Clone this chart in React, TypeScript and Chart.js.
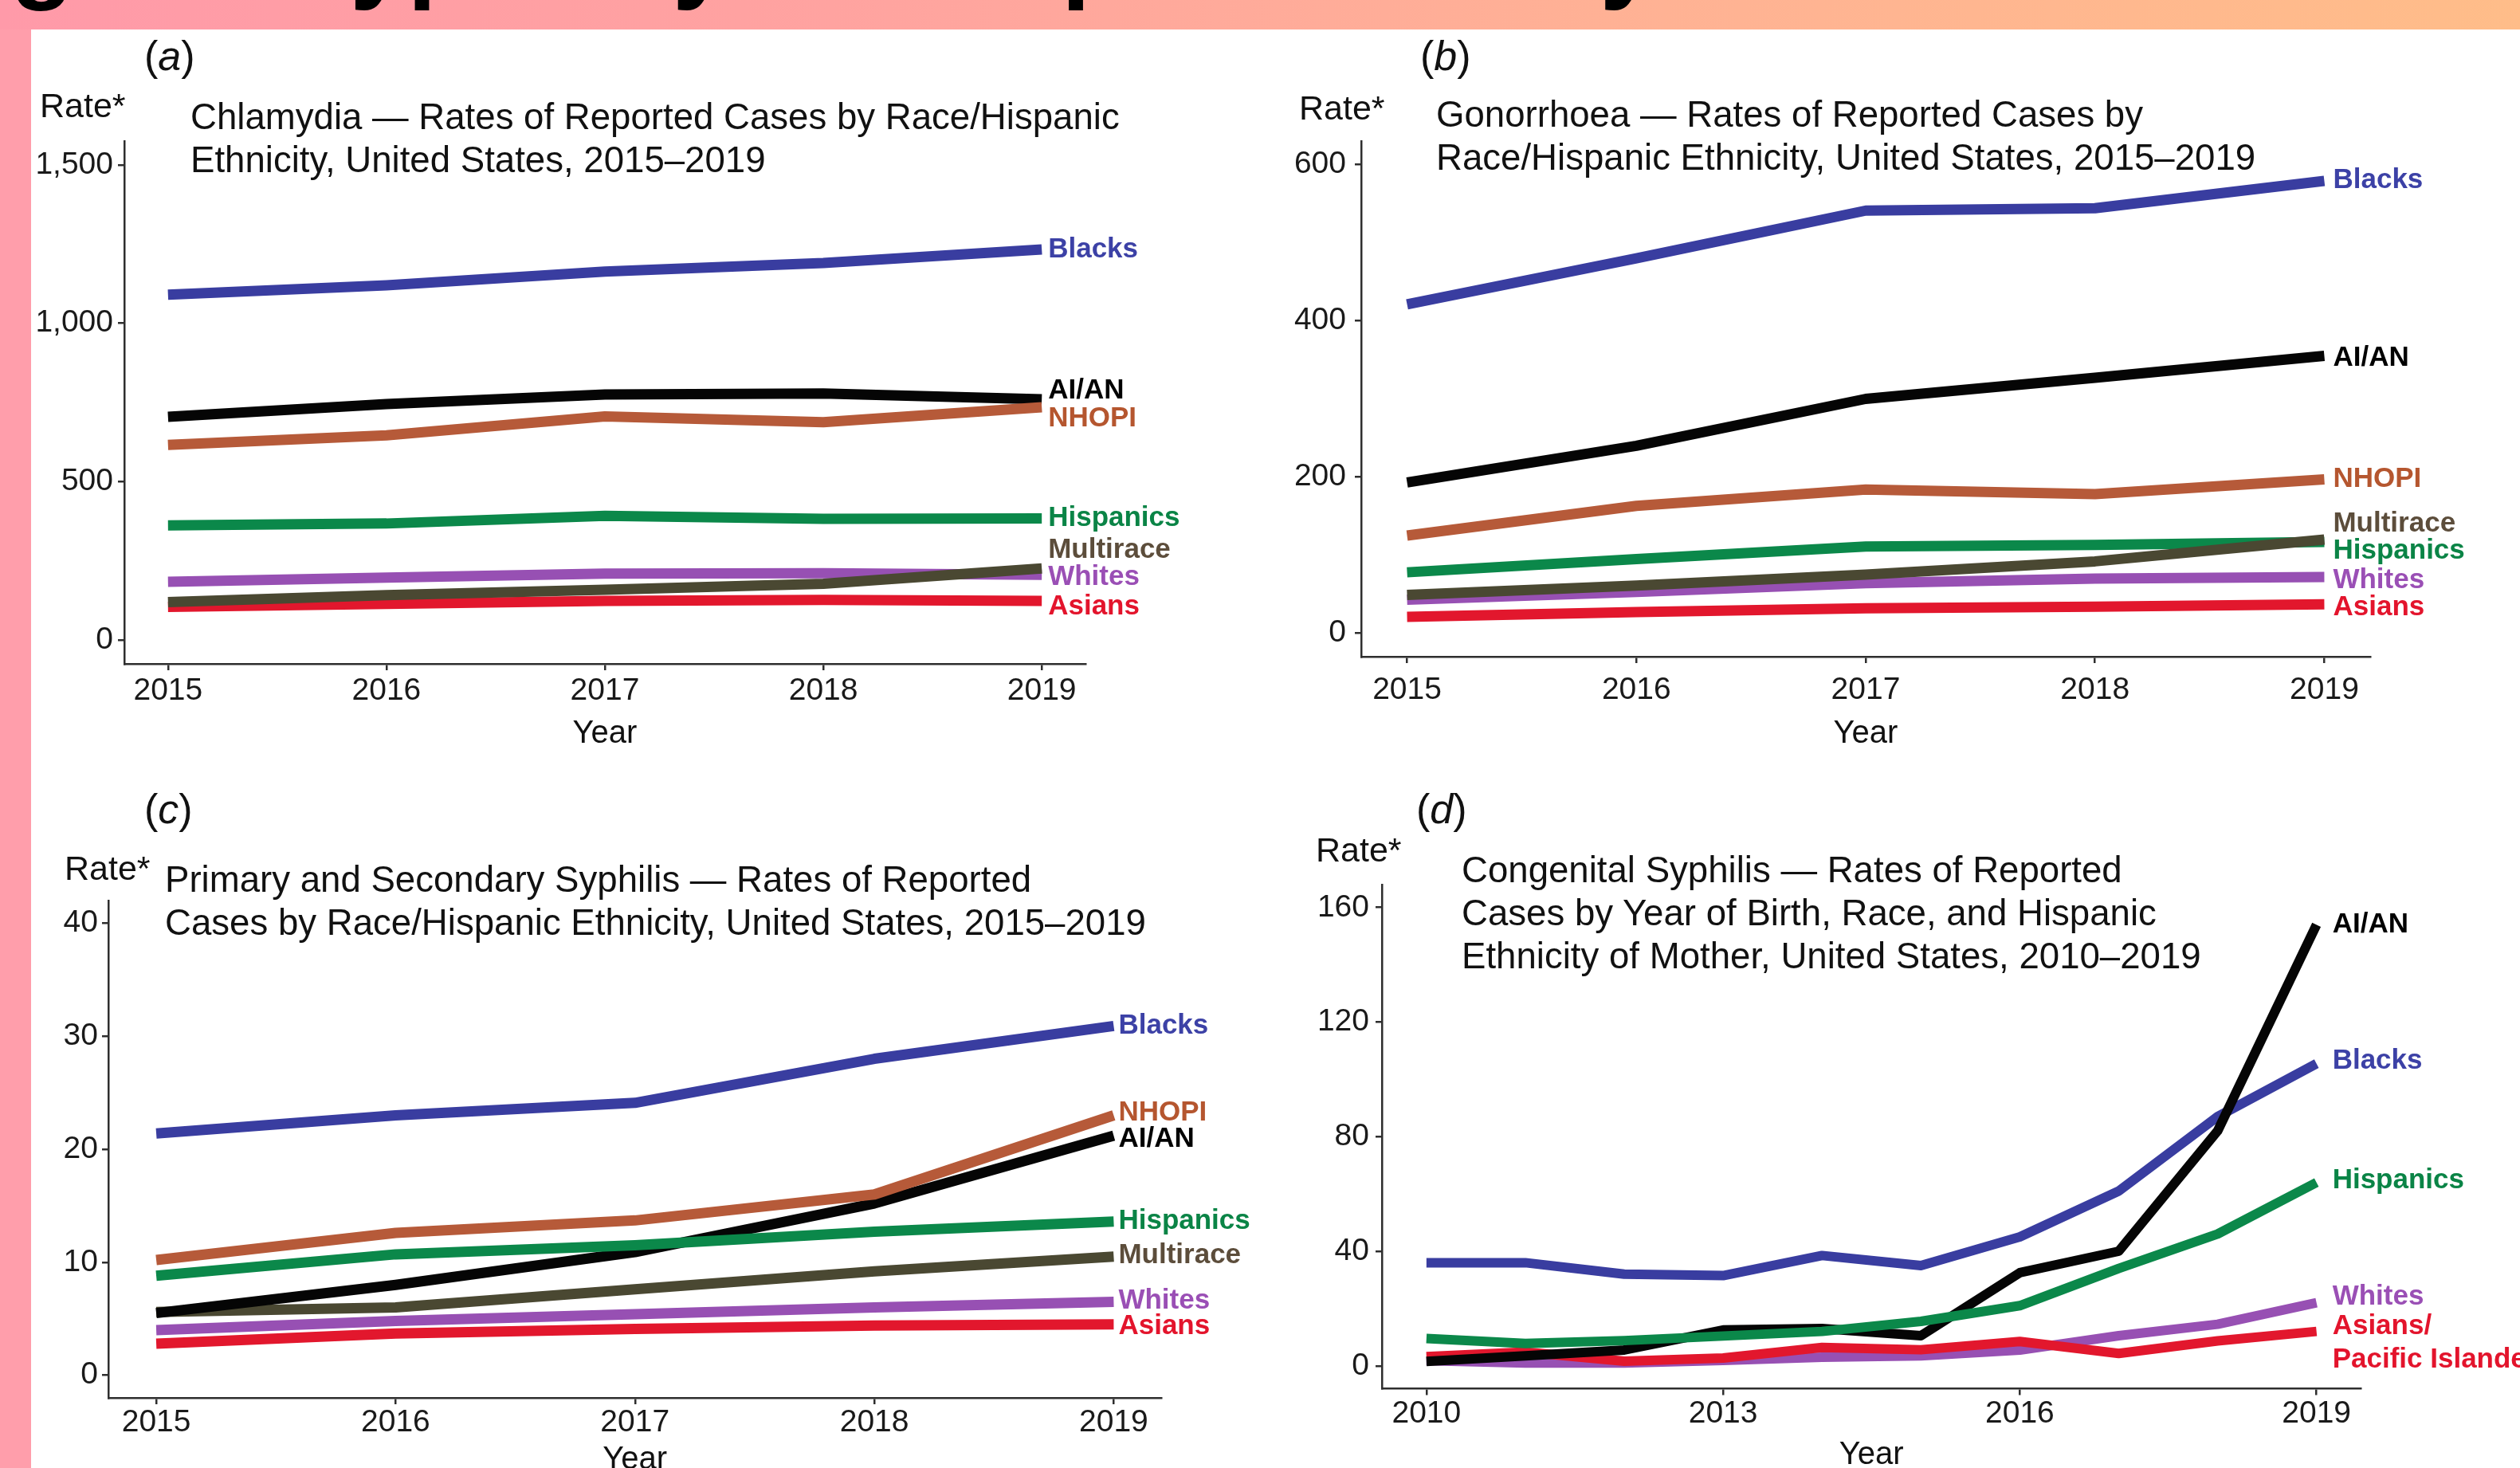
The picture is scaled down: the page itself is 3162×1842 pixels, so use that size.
import React, { useEffect, useRef } from "react";
import { Chart, registerables } from "chart.js";

Chart.register(...registerables);

const FONT = '"Liberation Sans", Arial, Helvetica, sans-serif';

// ---------- Panel (a): Chlamydia, 2015–2019 ----------
const yearsA = [2015, 2016, 2017, 2018, 2019];
const chlamBlacks = [1090, 1120, 1163, 1190, 1233];
const chlamAIAN = [705, 745, 775, 778, 760];
const chlamNHOPI = [616, 646, 706, 688, 735];
const chlamHispanics = [362, 368, 392, 383, 384];
const chlamMultirace = [120, 142, 159, 178, 226];
const chlamWhites = [184, 197, 210, 211, 206];
const chlamAsians = [105, 114, 124, 127, 124];
const chlamYTicks = [0, 500, 1000, 1500];

// ---------- Panel (b): Gonorrhoea, 2015–2019 ----------
const yearsB = [2015, 2016, 2017, 2018, 2019];
const gonoBlacks = [421, 480, 541, 544, 579];
const gonoAIAN = [193, 240, 300, 327, 355];
const gonoNHOPI = [125, 163, 184, 178, 197];
const gonoHispanics = [78, 95, 111, 113, 117];
const gonoMultirace = [49, 61, 75, 92, 120];
const gonoWhites = [43, 53, 64, 70, 72];
const gonoAsians = [21, 27, 32, 34, 37];
const gonoYTicks = [0, 200, 400, 600];

// ---------- Panel (c): P&S Syphilis, 2015–2019 ----------
const yearsC = [2015, 2016, 2017, 2018, 2019];
const psBlacks = [21.4, 23.0, 24.1, 28.0, 30.9];
const psNHOPI = [10.2, 12.6, 13.7, 16.0, 23.0];
const psAIAN = [5.5, 8.0, 10.9, 15.2, 21.2];
const psHispanics = [8.8, 10.7, 11.5, 12.7, 13.6];
const psMultirace = [5.6, 6.0, 7.6, 9.2, 10.5];
const psWhites = [4.0, 4.8, 5.4, 6.0, 6.5];
const psAsians = [2.8, 3.7, 4.1, 4.4, 4.5];
const psYTicks = [0, 10, 20, 30, 40];

// ---------- Panel (d): Congenital Syphilis, 2010–2019 ----------
const yearsD = [2010, 2011, 2012, 2013, 2014, 2015, 2016, 2017, 2018, 2019];
const csBlacks = [36, 36, 32, 31.5, 38.5, 35, 45, 61, 87, 105.5];
const csAIAN = [1.5, 3.5, 5.5, 12.5, 13, 10.5, 32.5, 40, 82, 154];
const csHispanics = [9.5, 7.8, 8.8, 10.4, 12, 15.5, 21, 34, 46, 64];
const csWhites = [1.8, 1.0, 1.0, 1.9, 3.0, 3.5, 5.5, 10.5, 14.5, 22];
const csAsiansPI = [3.2, 4.8, 1.6, 2.7, 6.4, 5.6, 8.5, 4.3, 8.7, 12];
const csXTicks = [2010, 2013, 2016, 2019];
const csYTicks = [0, 40, 80, 120, 160];

const xTicks5 = [2015, 2016, 2017, 2018, 2019];

const LINE_COLORS: Record<string, string> = {
  Blacks: "#393da0",
  AIAN: "#050505",
  NHOPI: "#b65a39",
  Hispanics: "#0b884a",
  Multirace: "#4a4832",
  Whites: "#9750b3",
  Asians: "#e2172d",
};
const TEXT_COLORS: Record<string, string> = {
  Blacks: "#3c41a6",
  AIAN: "#000000",
  NHOPI: "#b5562f",
  Hispanics: "#0a8446",
  Multirace: "#5c4d3b",
  Whites: "#9a4fb5",
  Asians: "#e3142c",
};

// series lists (first = drawn on top); labelAt = label centre in data units
const seriesA = [
  { key: "Multirace", lines: ["Multirace"], data: chlamMultirace, labelAt: 283 },
  { key: "Whites", lines: ["Whites"], data: chlamWhites, labelAt: 199 },
  { key: "Asians", lines: ["Asians"], data: chlamAsians, labelAt: 104 },
  { key: "Hispanics", lines: ["Hispanics"], data: chlamHispanics, labelAt: 385 },
  { key: "NHOPI", lines: ["NHOPI"], data: chlamNHOPI, labelAt: 700 },
  { key: "AIAN", lines: ["AI/AN"], data: chlamAIAN, labelAt: 787 },
  { key: "Blacks", lines: ["Blacks"], data: chlamBlacks, labelAt: 1232 },
];
const seriesB = [
  { key: "Multirace", lines: ["Multirace"], data: gonoMultirace, labelAt: 140.5 },
  { key: "Hispanics", lines: ["Hispanics"], data: gonoHispanics, labelAt: 105.6 },
  { key: "Whites", lines: ["Whites"], data: gonoWhites, labelAt: 67.2 },
  { key: "Asians", lines: ["Asians"], data: gonoAsians, labelAt: 33 },
  { key: "NHOPI", lines: ["NHOPI"], data: gonoNHOPI, labelAt: 197.5 },
  { key: "AIAN", lines: ["AI/AN"], data: gonoAIAN, labelAt: 352 },
  { key: "Blacks", lines: ["Blacks"], data: gonoBlacks, labelAt: 580 },
];
const seriesC = [
  { key: "NHOPI", lines: ["NHOPI"], data: psNHOPI, labelAt: 23.2 },
  { key: "Hispanics", lines: ["Hispanics"], data: psHispanics, labelAt: 13.6 },
  { key: "AIAN", lines: ["AI/AN"], data: psAIAN, labelAt: 20.9 },
  { key: "Multirace", lines: ["Multirace"], data: psMultirace, labelAt: 10.6 },
  { key: "Whites", lines: ["Whites"], data: psWhites, labelAt: 6.6 },
  { key: "Asians", lines: ["Asians"], data: psAsians, labelAt: 4.3 },
  { key: "Blacks", lines: ["Blacks"], data: psBlacks, labelAt: 30.9 },
];
const seriesD = [
  { key: "Hispanics", lines: ["Hispanics"], data: csHispanics, labelAt: 64.7 },
  { key: "AIAN", lines: ["AI/AN"], data: csAIAN, labelAt: 154.1 },
  { key: "Blacks", lines: ["Blacks"], data: csBlacks, labelAt: 106.4 },
  { key: "Asians", lines: ["Asians/", "Pacific Islanders"], data: csAsiansPI, labelAt: 13.8 },
  { key: "Whites", lines: ["Whites"], data: csWhites, labelAt: 24.1 },
];

const endLabels = {
  id: "endLabels",
  afterDatasetsDraw(chart: any, _args: any, opts: any) {
    const { ctx } = chart;
    const xs = chart.scales.x;
    const ys = chart.scales.y;
    ctx.save();
    ctx.font = `bold ${opts.size}px ${FONT}`;
    ctx.textBaseline = "middle";
    ctx.textAlign = "left";
    chart.data.datasets.forEach((ds: any) => {
      const last = ds.data[ds.data.length - 1];
      const px = xs.getPixelForValue(last.x) + opts.gap;
      const py = ys.getPixelForValue(ds.labelAt);
      ctx.fillStyle = ds.labelColor;
      ds.labelLines.forEach((t: string, i: number) => ctx.fillText(t, px, py + i * opts.lineGap));
    });
    ctx.restore();
  },
};

type PanelCfg = {
  left: number; top: number; w: number; h: number;
  padTop: number; padRight: number; yW: number; xH: number;
  xMin: number; xMax: number; xTicks: number[];
  yMin: number; yMax: number; yTicks: number[];
  years: number[]; series: any[];
  xPad: number; yPad: number; lw: number; gap: number; titlePad: number; comma?: boolean;
};

const AXIS = "#2e2e2e";

function buildConfig(c: PanelCfg): any {
  return {
    type: "line",
    data: {
      datasets: c.series.map((s) => ({
        label: s.lines.join(" "),
        data: c.years.map((yr, i) => ({ x: yr, y: s.data[i] })),
        borderColor: LINE_COLORS[s.key],
        backgroundColor: LINE_COLORS[s.key],
        borderWidth: c.lw,
        pointRadius: 0,
        pointHoverRadius: 0,
        tension: 0,
        fill: false,
        borderCapStyle: "butt",
        borderJoinStyle: "round",
        labelLines: s.lines,
        labelAt: s.labelAt,
        labelColor: TEXT_COLORS[s.key],
      })),
    },
    options: {
      animation: false,
      responsive: false,
      devicePixelRatio: 1,
      events: [],
      layout: { padding: { top: c.padTop, right: c.padRight, left: 0, bottom: 0 } },
      plugins: {
        legend: { display: false },
        tooltip: { enabled: false },
        endLabels: { size: 35, gap: c.gap, lineGap: 42 },
      },
      scales: {
        x: {
          type: "linear",
          min: c.xMin,
          max: c.xMax,
          afterBuildTicks: (s: any) => { s.ticks = c.xTicks.map((v) => ({ value: v })); },
          afterFit: (s: any) => { s.height = c.xH; },
          ticks: {
            color: "#1a1a1a",
            font: { family: FONT, size: 39, lineHeight: 1.2 },
            padding: c.xPad,
            maxRotation: 0,
            autoSkip: false,
            callback: (v: any) => String(v),
          },
          grid: { display: true, drawOnChartArea: false, drawTicks: true, tickLength: 8, color: AXIS, lineWidth: 2.5 },
          border: { display: true, color: AXIS, width: 2.5 },
          title: { display: true, text: "Year", color: "#111", font: { family: FONT, size: 40, lineHeight: 1.2 }, padding: { top: 0, bottom: c.titlePad } },
        },
        y: {
          type: "linear",
          min: c.yMin,
          max: c.yMax,
          afterBuildTicks: (s: any) => { s.ticks = c.yTicks.map((v) => ({ value: v })); },
          afterFit: (s: any) => { s.width = c.yW; },
          ticks: {
            color: "#1a1a1a",
            font: { family: FONT, size: 39, lineHeight: 1.2 },
            padding: c.yPad,
            autoSkip: false,
            callback: (v: any) => (c.comma ? Number(v).toLocaleString("en-US") : String(v)),
          },
          grid: { display: true, drawOnChartArea: false, drawTicks: true, tickLength: 8, color: AXIS, lineWidth: 2.5 },
          border: { display: true, color: AXIS, width: 2.5 },
        },
      },
    },
    plugins: [endLabels],
  };
}

const panelA: PanelCfg = {
  left: 0, top: 37, w: 1580, h: 903, padTop: 140, padRight: 218, yW: 156, xH: 107,
  xMin: 2014.8, xMax: 2019.2, xTicks: xTicks5, yMin: -75, yMax: 1575, yTicks: chlamYTicks,
  years: yearsA, series: seriesA, xPad: 3, yPad: 6, lw: 13, gap: 8, titlePad: -5, comma: true,
};
const panelB: PanelCfg = {
  left: 1580, top: 37, w: 1582, h: 903, padTop: 140, padRight: 188, yW: 128, xH: 116,
  xMin: 2014.8, xMax: 2019.2, xTicks: xTicks5, yMin: -30, yMax: 630, yTicks: gonoYTicks,
  years: yearsB, series: seriesB, xPad: 11, yPad: 11, lw: 13, gap: 11, titlePad: -5,
};
const panelC: PanelCfg = {
  left: 0, top: 940, w: 1580, h: 916, padTop: 190, padRight: 122.5, yW: 136, xH: 102,
  xMin: 2014.8, xMax: 2019.2, xTicks: xTicks5, yMin: -2, yMax: 42, yTicks: psYTicks,
  years: yearsC, series: seriesC, xPad: 0, yPad: 5, lw: 13, gap: 6, titlePad: 0,
};
const panelD: PanelCfg = {
  left: 1580, top: 940, w: 1582, h: 910, padTop: 170, padRight: 199.5, yW: 154, xH: 107.5,
  xMin: 2009.55, xMax: 2019.45, xTicks: csXTicks, yMin: -8, yMax: 168, yTicks: csYTicks,
  years: yearsD, series: seriesD, xPad: 0, yPad: 8, lw: 12, gap: 20, titlePad: 0,
};

function Panel({ cfg }: { cfg: PanelCfg }) {
  const ref = useRef<HTMLCanvasElement>(null);
  useEffect(() => {
    const chart = new Chart(ref.current as HTMLCanvasElement, buildConfig(cfg));
    return () => chart.destroy();
  }, [cfg]);
  return (
    <canvas
      ref={ref}
      width={cfg.w}
      height={cfg.h}
      style={{ position: "absolute", left: cfg.left, top: cfg.top, width: cfg.w, height: cfg.h }}
    />
  );
}

function Txt(props: { x: number; base: number; size: number; bold?: boolean; color?: string; children: React.ReactNode }) {
  const { x, base, size, bold, color, children } = props;
  return (
    <div
      style={{
        position: "absolute",
        left: x,
        top: base - 0.8465 * size,
        fontSize: size,
        lineHeight: `${size}px`,
        fontFamily: FONT,
        fontWeight: bold ? 700 : 400,
        whiteSpace: "nowrap",
        color: color || "#111",
      }}
    >
      {children}
    </div>
  );
}

const headerWords = [
  { t: "Among", x: -355 },
  { t: "typically", x: 396 },
  { t: "poorer", x: 1332 },
  { t: "by", x: 1928 },
];

const TS = 45.6;

export default function App() {
  return (
    <div style={{ position: "absolute", left: 0, top: 0, width: 3162, height: 1842, overflow: "hidden", background: "#ffffff" }}>
      <div style={{ position: "absolute", left: 0, top: 0, width: 3162, height: 37, background: "linear-gradient(to right, #ff9aa9 0%, #ffa3a0 33%, #ffb294 66%, #ffbd89 100%)" }} />
      <div style={{ position: "absolute", left: 0, top: 37, width: 39, height: 1805, background: "#ff9eab" }} />
      {headerWords.map((w) => (
        <Txt key={w.t} x={w.x} base={-14} size={130} bold color="#000">{w.t}</Txt>
      ))}

      <Panel cfg={panelA} />
      <Panel cfg={panelB} />
      <Panel cfg={panelC} />
      <Panel cfg={panelD} />

      {/* (a) */}
      <Txt x={181} base={88} size={52}>(<i>a</i>)</Txt>
      <Txt x={50} base={147} size={43}>Rate*</Txt>
      <Txt x={239} base={163} size={TS}>Chlamydia — Rates of Reported Cases by Race/Hispanic</Txt>
      <Txt x={239} base={217} size={TS}>Ethnicity, United States, 2015–2019</Txt>

      {/* (b) */}
      <Txt x={1782} base={88} size={52}>(<i>b</i>)</Txt>
      <Txt x={1630} base={150} size={43}>Rate*</Txt>
      <Txt x={1802} base={160} size={TS}>Gonorrhoea — Rates of Reported Cases by</Txt>
      <Txt x={1802} base={214} size={TS}>Race/Hispanic Ethnicity, United States, 2015–2019</Txt>

      {/* (c) */}
      <Txt x={181} base={1033} size={52}>(<i>c</i>)</Txt>
      <Txt x={81} base={1104} size={43}>Rate*</Txt>
      <Txt x={207} base={1120} size={TS}>Primary and Secondary Syphilis — Rates of Reported</Txt>
      <Txt x={207} base={1174} size={TS}>Cases by Race/Hispanic Ethnicity, United States, 2015–2019</Txt>

      {/* (d) */}
      <Txt x={1777} base={1033} size={52}>(<i>d</i>)</Txt>
      <Txt x={1651} base={1081} size={43}>Rate*</Txt>
      <Txt x={1834} base={1108} size={TS}>Congenital Syphilis — Rates of Reported</Txt>
      <Txt x={1834} base={1162} size={TS}>Cases by Year of Birth, Race, and Hispanic</Txt>
      <Txt x={1834} base={1216} size={TS}>Ethnicity of Mother, United States, 2010–2019</Txt>
    </div>
  );
}
